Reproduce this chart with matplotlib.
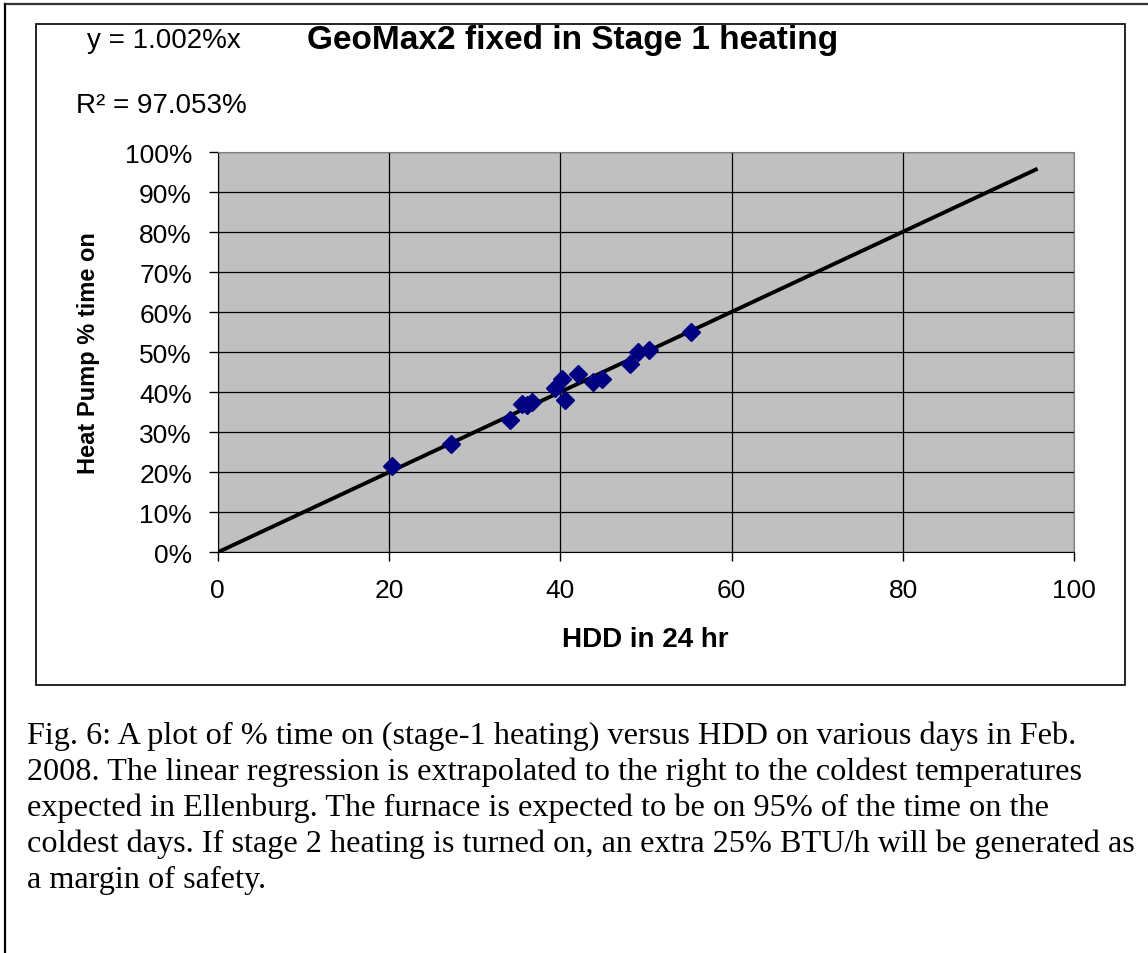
#!/usr/bin/env python3
"""Stage-1 heating duty cycle versus heating degree days (Feb. 2008)."""

from __future__ import annotations

import matplotlib
matplotlib.use("Agg")
import matplotlib.pyplot as plt
from matplotlib.lines import Line2D
from matplotlib.patches import Rectangle
from matplotlib.ticker import PercentFormatter
import numpy as np


# daily HDD and the fraction of time the heat pump ran
HDD = [20.3, 27.2, 34.1, 35.5, 36.1, 36.7, 39.4, 40.2, 40.5, 42.0,
       43.8, 44.9, 48.1, 49.1, 50.4, 55.2]
TIME_ON = [21.6, 27.2, 33.1, 37.1, 36.8, 37.5, 41.1, 43.3, 38.1, 44.6,
           42.6, 43.3, 47.1, 50.2, 50.6, 55.0]

SLOPE = 1.002          # % per HDD, fit through the origin
FIT_END = 95.5         # extrapolated to the coldest expected day

TITLE = "GeoMax2 fixed in Stage 1 heating"
EQUATION = "y = 1.002%x"
R_SQUARED = "R\u00b2 = 97.053%"
X_LABEL = "HDD in 24 hr"
Y_LABEL = "Heat Pump % time on"

CAPTION = [
    "Fig. 6: A plot of % time on (stage-1 heating) versus HDD on various days in Feb.",
    "2008. The linear regression is extrapolated to the right to the coldest temperatures",
    "expected in Ellenburg. The furnace is expected to be on 95% of the time on the",
    "coldest days. If stage 2 heating is turned on, an extra 25% BTU/h will be generated as",
    "a margin of safety.",
]

W, H = 1148, 954
SANS = "Liberation Sans"
SERIF = "Liberation Serif"


def px(x: float, y: float) -> tuple[float, float]:
    """Pixel coordinates (origin top-left) to figure fraction."""
    return x / W, 1 - y / H


def main() -> None:
    fig = plt.figure(figsize=(W / 100, H / 100), dpi=100)
    fig.patch.set_facecolor("white")

    # page frame (top and left edges visible) and the chart box
    fig.add_artist(Line2D([5 / W, 1], [1 - 5 / H] * 2, color="#333333", lw=1.6,
                          transform=fig.transFigure))
    fig.add_artist(Line2D([5 / W] * 2, [0, 1 - 5 / H], color="black", lw=1.6,
                          transform=fig.transFigure))
    x0, y1 = px(36, 25)
    x1, y0 = px(1125, 686)
    fig.add_artist(Rectangle((x0, y0), x1 - x0, y1 - y0, fill=False,
                             edgecolor="black", lw=1.2, transform=fig.transFigure))

    left, top = px(217.7, 153.3)
    right, bottom = px(1074.4, 553.3)
    ax = fig.add_axes([left, bottom, right - left, top - bottom])
    ax.set_facecolor("#C0C0C0")

    fit_x = np.array([0.0, FIT_END])
    ax.plot(fit_x, SLOPE * fit_x, color="black", lw=2.8, zorder=3)
    ax.plot(HDD, TIME_ON, linestyle="none", marker="D", markersize=9,
            color="#000080", markeredgecolor="#000080", zorder=4)

    ax.set_xlim(0, 100)
    ax.set_ylim(0, 100)
    ax.set_xticks(range(0, 101, 20))
    ax.set_yticks(range(0, 101, 10))
    ax.yaxis.set_major_formatter(PercentFormatter(xmax=100, decimals=0))
    ax.grid(True, color="black", lw=0.9)
    ax.set_axisbelow(True)
    for side in ("top", "right"):
        ax.spines[side].set_color("#808080")
    for side in ("left", "bottom"):
        ax.spines[side].set_color("black")
    ax.tick_params(direction="out", length=6.5, width=1, labelsize=19, colors="black")
    ax.tick_params(axis="y", pad=12)
    ax.tick_params(axis="x", pad=12)
    for lab in ax.get_xticklabels() + ax.get_yticklabels():
        lab.set_fontfamily(SANS)

    ax.set_xlabel(X_LABEL, fontsize=20, fontweight="bold", family=SANS)
    ax.xaxis.set_label_coords(0.499, -0.217)
    ax.xaxis.label.set_va("center")
    ax.set_ylabel(Y_LABEL, fontsize=17, fontweight="bold", family=SANS)
    ax.yaxis.set_label_coords(-0.151, 0.5)
    ax.yaxis.label.set_va("center")

    fig.text(*px(573, 41), TITLE, fontsize=24, fontweight="bold", family=SANS,
             ha="center", va="center")
    fig.text(*px(87, 41), EQUATION, fontsize=20, family=SANS, ha="left", va="center")
    fig.text(*px(76, 106), R_SQUARED, fontsize=20, family=SANS, ha="left", va="center")

    for i, line in enumerate(CAPTION):
        fig.text(*px(27, 736 + 36 * i), line, fontsize=23.2, family=SERIF,
                 ha="left", va="center")

    fig.savefig("out.png", dpi=100)
    plt.close(fig)


if __name__ == "__main__":
    main()
